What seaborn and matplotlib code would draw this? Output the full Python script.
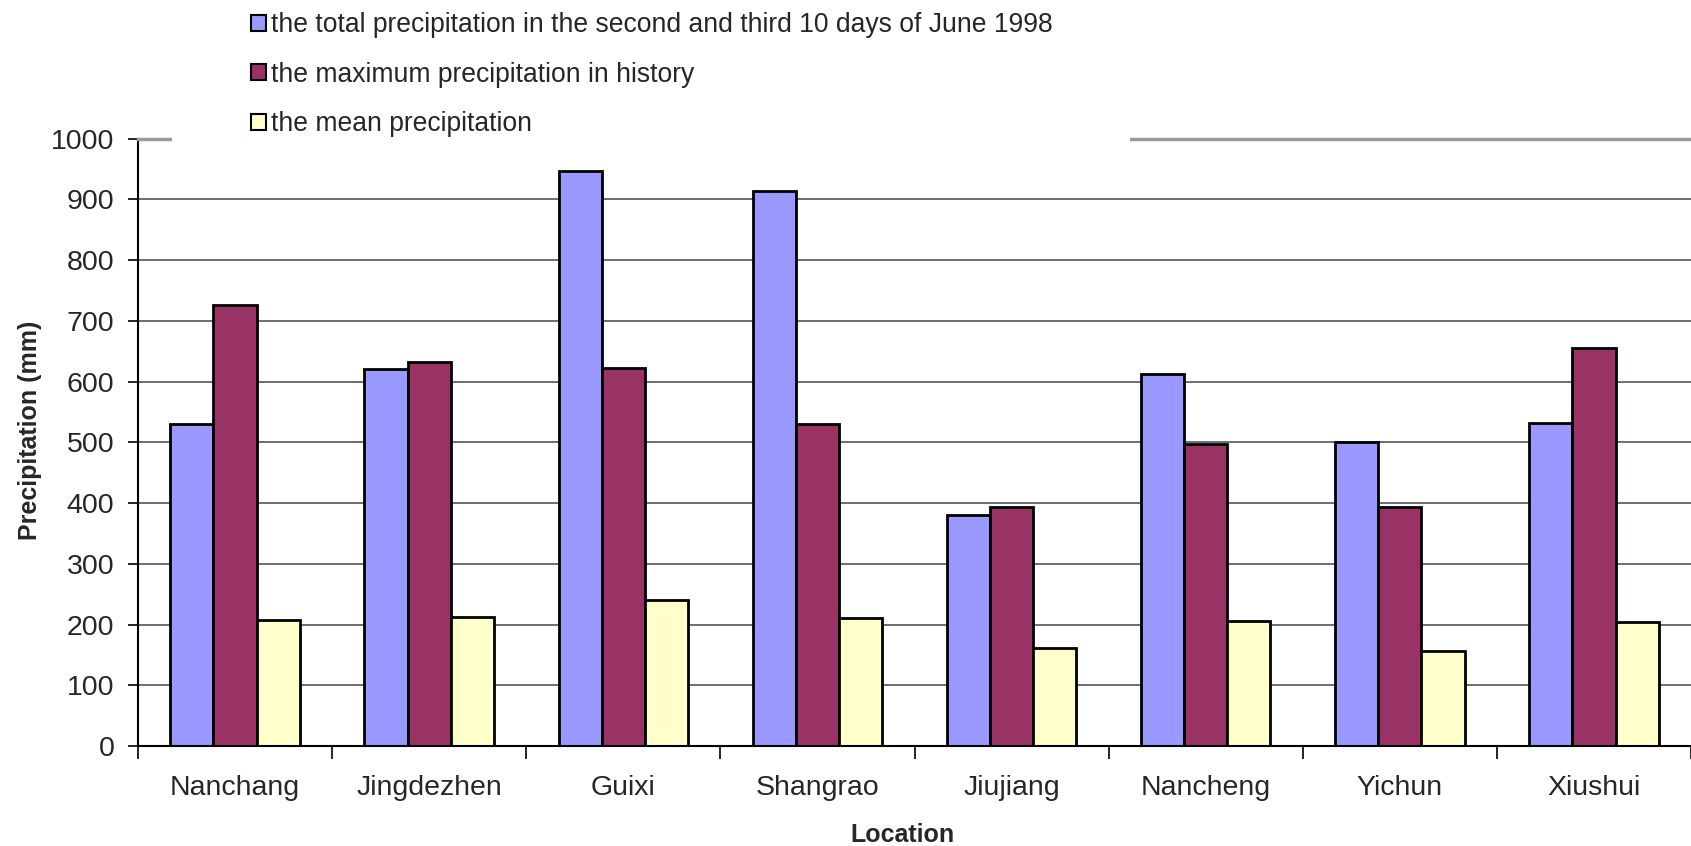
import numpy as np
import pandas as pd
import seaborn as sns
import matplotlib
matplotlib.use("Agg")
import matplotlib.pyplot as plt
from matplotlib.patches import Rectangle, Patch

# ---- data ----
locations = ["Nanchang", "Jingdezhen", "Guixi", "Shangrao", "Jiujiang",
             "Nancheng", "Yichun", "Xiushui"]
total_1998 = [531, 621, 946, 914, 380, 612, 500, 532]
max_history = [726, 633, 623, 530, 394, 498, 394, 655]
mean_precip = [208, 213, 241, 210, 162, 206, 157, 204]
series_names = [
    "the total precipitation in the second and third 10 days of June 1998",
    "the maximum precipitation in history",
    "the mean precipitation",
]
colors = ["#9999FF", "#993366", "#FFFFCC"]
y_ticks = [0, 100, 200, 300, 400, 500, 600, 700, 800, 900, 1000]

rows = []
for name, vals in zip(series_names, [total_1998, max_history, mean_precip]):
    for loc, v in zip(locations, vals):
        rows.append({"Location": loc, "Precipitation": v, "Series": name})
df = pd.DataFrame(rows)

sns.set_style("white")
plt.rcParams["font.family"] = ["Liberation Sans", "DejaVu Sans"]

W, H = 1691, 846
fig = plt.figure(figsize=(W / 100, H / 100), dpi=100)
ax_left, ax_bottom, ax_top = 138 / W, 1 - 746 / H, 1 - 138.7 / H
ax = fig.add_axes([ax_left, ax_bottom, 1 - ax_left, ax_top - ax_bottom])

sns.barplot(data=df, x="Location", y="Precipitation", hue="Series",
            hue_order=series_names, order=locations, palette=colors,
            width=0.667, edgecolor="black", linewidth=2, saturation=1,
            legend=False, ax=ax)

ax.set_xlim(-0.5, 7.5)
ax.set_ylim(0, 1000)
ax.set_yticks(y_ticks)
ax.set_axisbelow(True)
ax.yaxis.grid(True, color="#555555", linewidth=1.2)
ax.xaxis.grid(False)

ax.spines["right"].set_visible(False)
ax.spines["top"].set_color("#999999")
ax.spines["top"].set_linewidth(2.5)
ax.spines["left"].set_color("black")
ax.spines["left"].set_linewidth(1.5)
ax.spines["bottom"].set_color("black")
ax.spines["bottom"].set_linewidth(1.5)

ax.set_xticks(np.arange(-0.5, 8, 1), minor=True)
ax.tick_params(axis="x", which="major", length=0, pad=21, labelsize=20.5)
ax.tick_params(axis="x", which="minor", length=9, width=1.2, direction="out",
               color="black", bottom=True)
ax.tick_params(axis="y", which="major", length=7, width=1.2, direction="out",
               color="black", left=True, pad=10, labelsize=20.5)

ax.set_xlabel("Location", fontsize=18, fontweight="bold")
ax.xaxis.label.set_verticalalignment("center")
ax.xaxis.set_label_coords(0.492, -0.147)
ax.set_ylabel("Precipitation (mm)", fontsize=18, fontweight="bold")
ax.yaxis.label.set_verticalalignment("center")
ax.yaxis.set_label_coords(-0.0695, 0.52)

# white legend area covering part of top border
fig.add_artist(Rectangle((172 / W, 1 - 146 / H), (1130 - 172) / W, 146 / H,
                         transform=fig.transFigure, facecolor="white",
                         edgecolor="none", zorder=5))

handles = [Patch(facecolor=c, edgecolor="black", linewidth=1.5) for c in colors]
leg = fig.legend(handles, series_names, loc="upper left",
                 bbox_to_anchor=(251 / W, 1 - 12 / H), frameon=False,
                 fontsize=19.1, handlelength=0.55, handleheight=0.55,
                 handletextpad=0.2, labelspacing=0.89, borderpad=0,
                 borderaxespad=0)
leg.set_zorder(10)

fig.savefig("out.png", dpi=100)
